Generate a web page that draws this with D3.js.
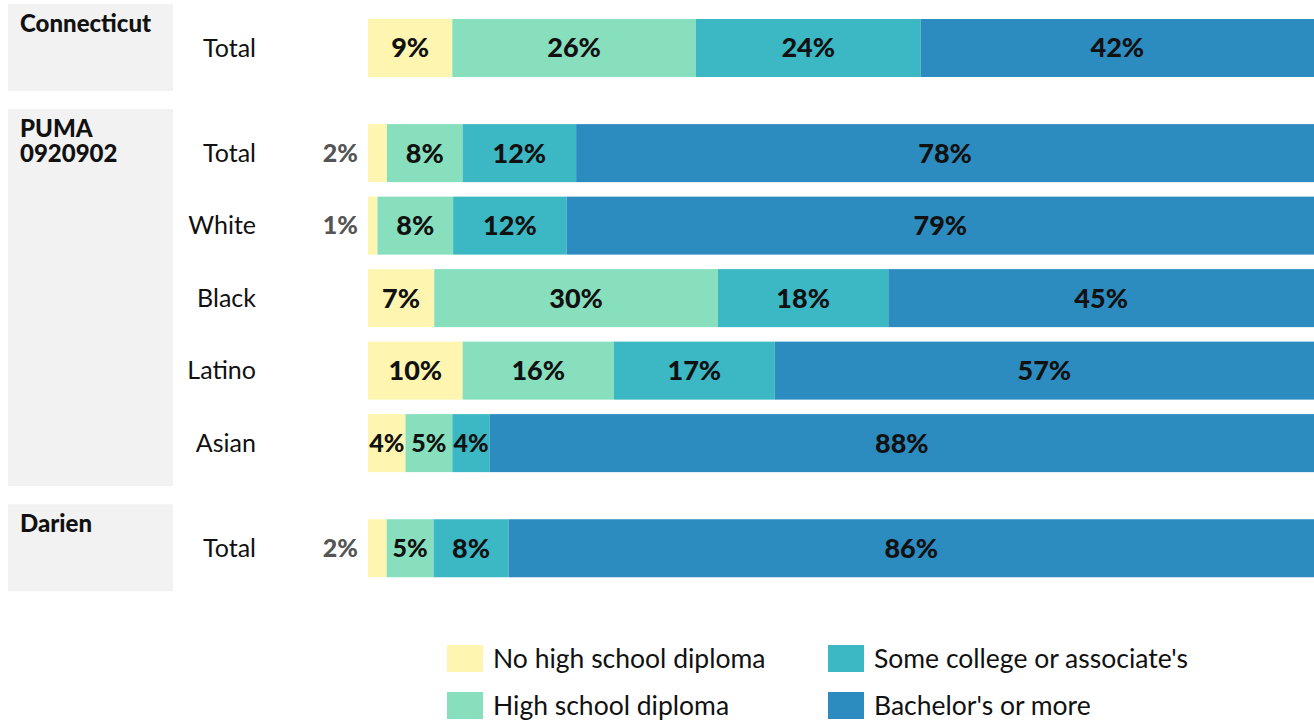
<!DOCTYPE html>
<html>
<head>
<meta charset="utf-8">
<script src="https://cdn.jsdelivr.net/npm/d3@7"></script>
<style>
  body { margin: 0; background: #fff; }
  text { font-family: "Source Sans Pro", Lato, "Noto Sans", sans-serif; }
</style>
</head>
<body>
<div id="chart"></div>
<script>
// education attainment, percent of adults 25+
let levels = ["No high school diploma", "High school diploma", "Some college or associate's", "Bachelor's or more"];
let colors = ["#fef6b0", "#88dfbe", "#3cb7c4", "#2c8bbf"];

let groups = ["Connecticut", "PUMA\n0920902", "Darien"];
let rowGroup = [0, 1, 1, 1, 1, 1, 2];
let rowLabels = ["Total", "Total", "White", "Black", "Latino", "Asian", "Total"];

let noDiploma   = [9, 2, 1, 7, 10, 4, 2];
let hsDiploma   = [26, 8, 8, 30, 16, 5, 5];
let someCollege = [24, 12, 12, 18, 17, 4, 8];
let bachelors   = [42, 78, 79, 45, 57, 88, 86];

let svgWidth = 1314;
let svgHeight = 724;

let svg = d3.select("#chart")
	.append("svg")
	.attr("width", svgWidth)
	.attr("height", svgHeight);

let rows = rowLabels.map((label, i) => ({
	idx: i,
	label: label,
	group: rowGroup[i],
	slot: i + rowGroup[i] * 0.45,
	0: noDiploma[i], 1: hsDiploma[i], 2: someCollege[i], 3: bachelors[i]
}));

let stack = d3.stack()
	.keys([0, 1, 2, 3])
	.offset(d3.stackOffsetExpand);
let series = stack(rows);

let x = d3.scaleLinear().domain([0, 1]).range([368, 1314]);
let y = d3.scaleLinear().domain([0, 1]).range([48, 120.5]);
let barH = 58;

// group boxes
let groupBoxes = groups.map((g, gi) => {
	let rs = rows.filter(r => r.group == gi);
	return { name: g, top: y(rs[0].slot) - 44, bottom: y(rs[rs.length - 1].slot) + 43 };
});

let boxG = svg.append("g");
boxG.selectAll("rect")
	.data(groupBoxes)
	.enter()
	.append("rect")
	.attr("x", 8)
	.attr("width", 165)
	.attr("y", d => d.top)
	.attr("height", d => d.bottom - d.top)
	.attr("fill", "#f2f2f2");

boxG.selectAll("text")
	.data(groupBoxes)
	.enter()
	.append("text")
	.attr("x", 20)
	.attr("y", d => d.top + 28)
	.attr("font-size", "24px")
	.attr("font-weight", 900)
	.attr("fill", "#111")
	.each(function(d) {
		d.name.split("\n").forEach((line, i) => {
			d3.select(this).append("tspan")
				.attr("x", 20)
				.attr("dy", i == 0 ? 0 : 25)
				.text(line);
		});
	});

// row labels
svg.append("g")
	.selectAll("text")
	.data(rows)
	.enter()
	.append("text")
	.attr("x", 256)
	.attr("y", d => y(d.slot))
	.attr("dy", "0.35em")
	.attr("text-anchor", "end")
	.attr("font-size", "25px")
	.attr("fill", "#111")
	.text(d => d.label);

// bars
let layer = svg.append("g")
	.selectAll("g")
	.data(series)
	.enter()
	.append("g")
	.attr("fill", (d, i) => colors[i]);

layer.selectAll("rect")
	.data(d => d)
	.enter()
	.append("rect")
	.attr("x", d => x(d[0]))
	.attr("width", d => x(d[1]) - x(d[0]))
	.attr("y", d => y(d.data.slot) - barH / 2)
	.attr("height", barH);

// value labels
layer.selectAll("text")
	.data((d, i) => d.map(p => ({ p: p, v: p.data[i] })))
	.enter()
	.append("text")
	.attr("x", d => d.v < 3 ? 358 : (x(d.p[0]) + x(d.p[1])) / 2)
	.attr("y", d => y(d.p.data.slot))
	.attr("dy", "0.35em")
	.attr("text-anchor", d => d.v < 3 ? "end" : "middle")
	.attr("font-size", d => d.v < 6 ? "25px" : "27px")
	.attr("font-weight", 900)
	.attr("fill", d => d.v < 3 ? "#555" : "#111")
	.text(d => d.v + "%");

// legend
let legend = svg.append("g")
	.selectAll("g")
	.data(levels)
	.enter()
	.append("g")
	.attr("transform", (d, i) => `translate(${i < 2 ? 447 : 828}, ${i % 2 == 0 ? 645 : 692})`);

legend.append("rect")
	.attr("width", 36)
	.attr("height", 27)
	.attr("fill", (d, i) => colors[i]);

legend.append("text")
	.attr("x", 46)
	.attr("y", 13.5)
	.attr("dy", "0.35em")
	.attr("font-size", "26.5px")
	.attr("fill", "#111")
	.text(d => d);
</script>
</body>
</html>
